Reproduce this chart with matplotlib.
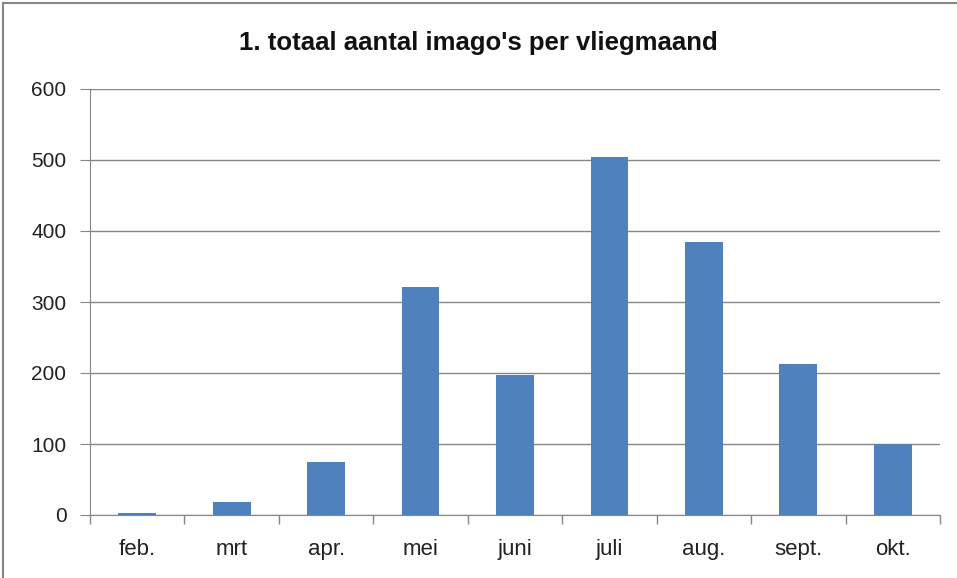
import matplotlib
matplotlib.use("Agg")
import matplotlib.pyplot as plt
from matplotlib.lines import Line2D
import numpy as np

months = ["feb.", "mrt", "apr.", "mei", "juni", "juli", "aug.", "sept.", "okt."]
counts = [3, 19, 74, 321, 197, 504, 384, 213, 100]
yticks = [0, 100, 200, 300, 400, 500, 600]

plt.rcParams['font.family'] = ['Liberation Sans', 'DejaVu Sans']

fig = plt.figure(figsize=(9.57, 5.78), dpi=100)
ax = fig.add_axes([90/957, 1-515/578, 850/957, (515-89)/578])

x = np.arange(len(months))
ax.bar(x, counts, width=0.4, color="#4F81BD", zorder=3)

ax.set_xlim(-0.5, len(months)-0.5)
ax.set_ylim(0, 600)
ax.set_yticks(yticks)
ax.set_yticklabels([str(v) for v in yticks], fontsize=15, color="#222222")
ax.set_xticks(x)
ax.set_xticklabels(months, fontsize=16, color="#222222")
ax.tick_params(axis='x', length=0, pad=17)
ax.tick_params(axis='y', length=7, color="#868686", pad=10)
ax.set_xticks(np.arange(-0.5, len(months)), minor=True)
ax.tick_params(axis='x', which='minor', length=6.5, color="#868686", width=1)
ax.yaxis.grid(True, color="#868686", linewidth=1, zorder=0)
for s in ["top", "right"]:
    ax.spines[s].set_visible(False)
for s in ["left", "bottom"]:
    ax.spines[s].set_color("#868686")
ax.set_axisbelow(True)

fig.text(0.5, 1-43/578, "1. totaal aantal imago's per vliegmaand", ha="center", va="center",
         fontsize=18.5, fontweight="bold", color="#111111")

fig.add_artist(Line2D([3/957, 3/957], [0, 1-3/578], transform=fig.transFigure, color="#868686", lw=1.5))
fig.add_artist(Line2D([3/957, 1], [1-3/578, 1-3/578], transform=fig.transFigure, color="#868686", lw=1.5))

fig.savefig("out.png", dpi=100)
